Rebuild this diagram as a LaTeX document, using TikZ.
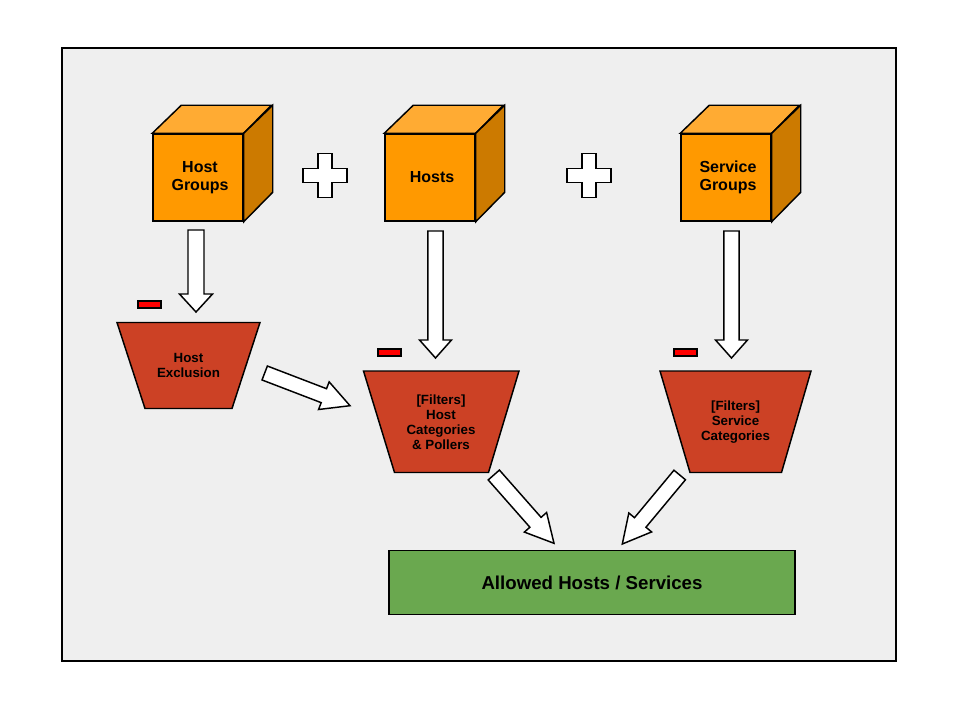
\documentclass[tikz,border=0pt]{standalone}
\usepackage{fontspec}
\setmainfont{Liberation Sans}
\usetikzlibrary{calc}
\definecolor{bgpanel}{HTML}{EFEFEF}
\definecolor{cubefrontc}{HTML}{FF9900}
\definecolor{cubetopc}{HTML}{FFAB33}
\definecolor{cubesidec}{HTML}{CC7A00}
\definecolor{trapc}{HTML}{CC4125}
\definecolor{greenc}{HTML}{6AA84F}
\definecolor{minusc}{HTML}{FF0000}
\tikzset{
  outline/.style={draw=black, line width=1.1pt, line join=miter},
  cubefront/.style={outline, fill=cubefrontc, minimum width=67.5pt, minimum height=65.25pt, inner sep=0pt, align=center, font=\fontsize{12}{13.75}\selectfont\bfseries},
  cubetop/.style={outline, fill=cubetopc},
  cubeside/.style={outline, fill=cubesidec},
  trap/.style={outline, fill=trapc},
  traptext/.style={align=center, inner sep=0pt, font=\fontsize{10}{11.25}\selectfont\bfseries},
  minusbox/.style={outline, fill=minusc, minimum width=17.25pt, minimum height=5.25pt, inner sep=0pt},
  plussign/.style={outline, fill=white},
  barrow/.style={outline, fill=white},
  resultbox/.style={outline, fill=greenc, minimum width=304.5pt, minimum height=48pt, inner sep=0pt, font=\fontsize{14}{16}\selectfont\bfseries}
}
% #1 half shaft, #2 half head, #3 head length, #4 tail, #5 tip
\newcommand\blockarrow[5]{%
  \coordinate (bah) at ($(#5)!#3!(#4)$);
  \draw[barrow] ($(#4)!#1!90:(#5)$) -- ($(bah)!#1!90:(#5)$) -- ($(bah)!#2!90:(#5)$) -- (#5)
    -- ($(bah)!#2!-90:(#5)$) -- ($(bah)!#1!-90:(#5)$) -- ($(#4)!#1!-90:(#5)$) -- cycle;}
\newcommand\plusmark[1]{%
  \draw[plussign] ($(#1)+(-7,-22)$) -- ++(14,0) -- ++(0,15) -- ++(15,0) -- ++(0,14) -- ++(-15,0)
    -- ++(0,15) -- ++(-14,0) -- ++(0,-15) -- ++(-15,0) -- ++(0,-14) -- ++(15,0) -- cycle;}
\newcommand\cubefaces[1]{%
  \draw[cubetop] (#1.north west) -- ++(29,-28) -- ++(90,0) -- (#1.north east) -- cycle;
  \draw[cubeside] (#1.north east) -- ++(29,-28) -- ++(0,87) -- (#1.south east) -- cycle;}
\begin{document}
\begin{tikzpicture}[x=0.75pt,y=-0.75pt]
\useasboundingbox (0,0) rectangle (960,720);
\fill[white] (0,0) rectangle (960,720);
\draw[outline, fill=bgpanel] (62,48) rectangle (896,661);

% cubes
\node[cubefront] (hg) at (198,177.5) {\hspace*{3pt}Host\\\hspace*{3pt}Groups};
\cubefaces{hg}
\node[cubefront] (hosts) at (430,177.5) {\hspace*{3pt}Hosts};
\cubefaces{hosts}
\node[cubefront] (sg) at (726,177.5) {\hspace*{3pt}Service\\\hspace*{3pt}Groups};
\cubefaces{sg}

% plus signs
\coordinate (plus1) at (325,175.5);
\coordinate (plus2) at (589,175.5);
\plusmark{plus1}
\plusmark{plus2}

% trapezoids
\draw[trap] (117,322.5) -- (260,322.5) -- (232,408.5) -- (145,408.5) -- cycle;
\node[traptext] (hex) at (188.5,365.5) {Host\\Exclusion};
\draw[trap] (363.5,371) -- (519,371) -- (488.5,472.5) -- (394.5,472.5) -- cycle;
\node[traptext] (fhost) at (441,422) {[Filters]\\Host\\Categories\\\& Pollers};
\draw[trap] (660,371) -- (811,371) -- (781.5,472.5) -- (690,472.5) -- cycle;
\node[traptext] (fsvc) at (735.5,422) {[Filters]\\Service\\Categories};

% minus signs
\node[minusbox] (m1) at (149.5,304.5) {};
\node[minusbox] (m2) at (389.5,352.5) {};
\node[minusbox] (m3) at (685.5,352.5) {};

% result box
\node[resultbox] (allowed) at (592,582.5) {Allowed Hosts / Services};

% arrows
\coordinate (a1t) at (196,230);   \coordinate (a1h) at (196,312);
\coordinate (a2t) at (435.5,231); \coordinate (a2h) at (435.5,358);
\coordinate (a3t) at (731.5,231); \coordinate (a3h) at (731.5,358);
\blockarrow{6pt}{12.4pt}{13.5pt}{a1t}{a1h}
\blockarrow{5.7pt}{12pt}{13.5pt}{a2t}{a2h}
\blockarrow{5.7pt}{12pt}{13.5pt}{a3t}{a3h}
\coordinate (d1t) at (264.7,373);  \coordinate (d1h) at (350,405.7);
\coordinate (d2t) at (493.8,475);  \coordinate (d2h) at (554,543.3);
\coordinate (d3t) at (679.7,475);  \coordinate (d3h) at (622.3,544);
\blockarrow{5.6pt}{11.1pt}{21pt}{d1t}{d1h}
\blockarrow{5.6pt}{11.1pt}{21pt}{d2t}{d2h}
\blockarrow{5.6pt}{11.1pt}{21pt}{d3t}{d3h}
\end{tikzpicture}
\end{document}
